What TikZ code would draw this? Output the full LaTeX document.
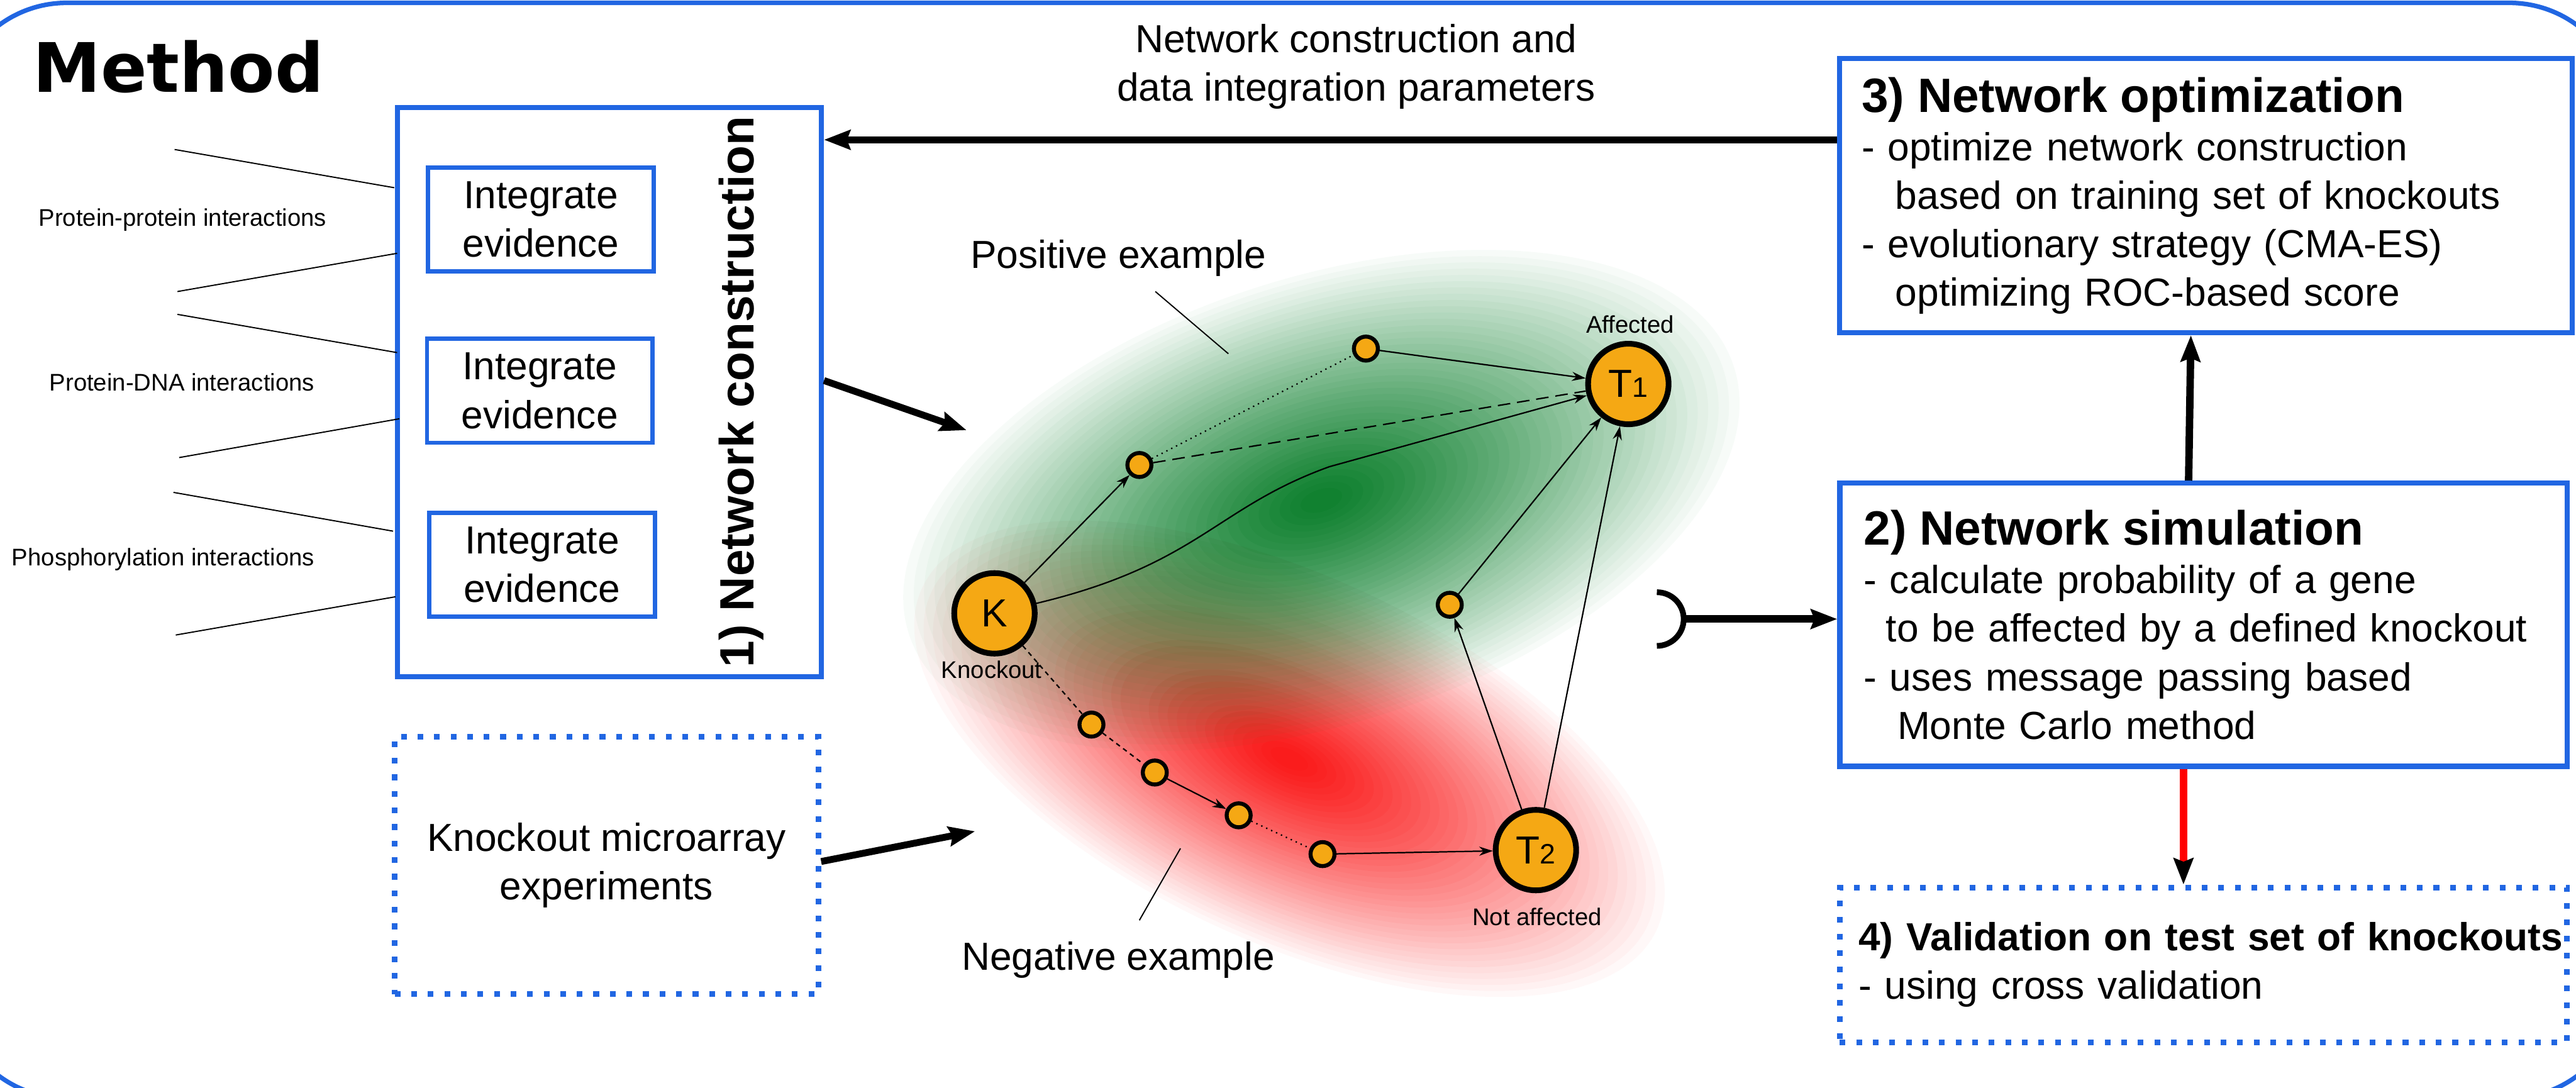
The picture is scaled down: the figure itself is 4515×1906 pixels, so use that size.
\documentclass[tikz,border=0pt]{standalone}
\usepackage{fontspec}
\setmainfont{Liberation Sans}
\newfontfamily\titlefont{DejaVu Sans}
\usetikzlibrary{arrows.meta}

\definecolor{boxblue}{RGB}{33,102,226}
\definecolor{geneorange}{RGB}{245,168,20}
\definecolor{posgreen}{RGB}{14,128,46}
\definecolor{negred}{RGB}{250,25,25}

\newcommand{\bodysize}{\fontsize{19.5}{24.2}\selectfont}
\newcommand{\headsize}{\fontsize{24}{24.2}\selectfont\bfseries}
\newcommand{\labelsize}{\fontsize{12}{14}\selectfont}
\newcommand{\subidx}[1]{{\fontsize{14}{14}\selectfont #1}}

\tikzset{
  bluebox/.style={draw=boxblue, line width=0.09cm},
  dotbox/.style={draw=boxblue, line width=0.1cm, dash pattern=on 0.1cm off 0.19cm},
  evbox/.style={draw=boxblue, line width=0.075cm, minimum width=3.95cm, minimum height=1.82cm, align=center, font=\bodysize},
  gene/.style={circle, draw, line width=0.1cm, fill=geneorange, minimum size=1.41cm, inner sep=0pt, font=\bodysize},
  minigene/.style={circle, draw, line width=0.07cm, fill=geneorange, minimum size=0.42cm, inner sep=0pt},
  link/.style={line width=0.7pt, -{Stealth[length=0.24cm, width=0.16cm]}},
  plainlink/.style={line width=0.7pt},
  bigarrow/.style={line width=0.13cm, -{Stealth[length=0.46cm, width=0.34cm, inset=0.06cm]}}
}

\begin{document}
\begin{tikzpicture}[x=0.01cm, y=-0.01cm]
  \useasboundingbox (0,0) rectangle (4515,1906);
  \draw[boxblue, line width=0.08cm, rounded corners=2cm] (-83,5) rectangle (4598,1925);

  \begin{scope}[shift={(2260,1330)}, rotate=-25]
    \foreach \i in {1,...,39} {
      \pgfmathsetmacro\op{1-((40-\i)/(41-\i))^1.2}
      \pgfmathsetmacro\rr{1-(\i-1)/40}
      \fill[negred, opacity=\op] (0,0) ellipse ({710*\rr} and {320*\rr});
    }
  \end{scope}
  \begin{scope}[shift={(2316,877)}, rotate=18]
    \foreach \i in {1,...,39} {
      \pgfmathsetmacro\op{1-((40-\i)/(41-\i))^1.2}
      \pgfmathsetmacro\rr{1-(\i-1)/40}
      \fill[posgreen, opacity=\op] (0,0) ellipse ({760*\rr} and {390*\rr});
    }
  \end{scope}

  \node[anchor=base west, inner sep=0pt, font=\titlefont\bfseries\fontsize{34}{40}\selectfont] (title) at (57,161) {Method};

  \node[bluebox, minimum width=7.43cm, minimum height=9.97cm] (netcon) at (1068,687) {};
  \node[rotate=90, anchor=base, font=\headsize] (netcontitle) at (1321,687) {1) Network construction};
  \node[evbox] (ev1) at (948,385) {Integrate\\evidence};
  \node[evbox] (ev2) at (946,685) {Integrate\\evidence};
  \node[evbox] (ev3) at (950,990) {Integrate\\evidence};

  \node[anchor=base, font=\labelsize] (ppi) at (320,396) {Protein-protein interactions};
  \node[anchor=base, font=\labelsize] (pdi) at (319,685) {Protein-DNA interactions};
  \node[anchor=base, font=\labelsize] (phos) at (286,991) {Phosphorylation interactions};
  \draw[line width=0.6pt] (306,262) -- (691,329);
  \draw[line width=0.6pt] (311,511) -- (696,444);
  \draw[line width=0.6pt] (311,551) -- (696,618);
  \draw[line width=0.6pt] (314,802) -- (700,734);
  \draw[line width=0.6pt] (304,863) -- (689,931);
  \draw[line width=0.6pt] (308,1113) -- (693,1046);

  \node[dotbox, minimum width=7.42cm, minimum height=4.51cm, align=center, font=\bodysize] (kodata) at (1063,1517) {Knockout microarray\\experiments};

  \node[align=center, font=\bodysize] (params) at (2377,117) {Network construction and\\data integration parameters};

  \node[bluebox, minimum width=12.83cm, minimum height=4.80cm, text width=12.05cm, inner xsep=0.39cm, align=left, font=\bodysize] (opt) at (3866,343) {{\headsize 3) Network optimization}\\
    - optimize network construction\\
    \hspace*{0.59cm}based on training set of knockouts\\
    - evolutionary strategy (CMA-ES)\\
    \hspace*{0.59cm}optimizing ROC-based score};
  \node[bluebox, minimum width=12.74cm, minimum height=4.96cm, text width=11.9cm, inner xsep=0.42cm, align=left, font=\bodysize] (sim) at (3862,1095) {{\headsize 2) Network simulation}\\
    - calculate probability of a gene\\
    \hspace*{0.39cm}to be affected by a defined knockout\\
    - uses message passing based\\
    \hspace*{0.59cm}Monte Carlo method};
  \node[dotbox, minimum width=12.74cm, minimum height=2.71cm, text width=12.08cm, inner xsep=0.33cm, align=left, font=\bodysize] (valid) at (3862,1691) {\mbox{\bfseries 4) Validation on test set of knockouts}\\
    - using cross validation};

  \node[anchor=base, font=\bodysize] (poslabel) at (1960,470) {Positive example};
  \node[anchor=base, font=\bodysize] (neglabel) at (1960,1700) {Negative example};
  \draw[line width=0.6pt] (2025,511) -- (2153,620);
  \draw[line width=0.6pt] (2069,1487) -- (1997,1613);

  \node[gene] (K) at (1743,1075) {K};
  \node[gene] (T1) at (2854,673) {T\subidx{1}};
  \node[gene] (T2) at (2692,1490) {T\subidx{2}};
  \node[anchor=base, font=\labelsize] (kolabel) at (1738,1189) {Knockout};
  \node[anchor=base, font=\labelsize] (afflabel) at (2857,584) {Affected};
  \node[anchor=base, font=\labelsize] (notafflabel) at (2694,1622) {Not affected};

  \node[minigene] (pa) at (2394,611) {};
  \node[minigene] (pb) at (1997,815) {};
  \node[minigene] (pc) at (2541,1060) {};
  \node[minigene] (na) at (1913,1270) {};
  \node[minigene] (nb) at (2024,1354) {};
  \node[minigene] (nc) at (2171,1429) {};
  \node[minigene] (nd) at (2318,1497) {};

  \draw[link] (K) -- (pb);
  \draw[plainlink, dotted] (pb) -- (pa);
  \draw[link] (pa) -- (T1);
  \draw[plainlink, dash pattern=on 0.22cm off 0.12cm] (pb) -- (T1);
  \draw[link] (K) .. controls (2100,990) and (2130,890) .. (2330,818) -- (T1);
  \draw[link] (pc) -- (T1);
  \draw[link] (T2) -- (pc);
  \draw[link] (T2) -- (T1);
  \draw[plainlink, dash pattern=on 0.08cm off 0.07cm] (K) -- (na);
  \draw[plainlink, dash pattern=on 0.08cm off 0.07cm] (na) -- (nb);
  \draw[link] (nb) -- (nc);
  \draw[plainlink, dotted] (nc) -- (nd);
  \draw[link] (nd) -- (T2);

  \coordinate (kin) at (1694,754);
  \coordinate (din) at (1709,1457);
  \coordinate (hook) at (2951,1085);
  \draw[bigarrow, line width=0.12cm] (opt.west |- 0,245) -- (netcon.east |- 0,245);
  \draw[bigarrow, line width=0.12cm] (netcon.east |- 0,667) -- (kin);
  \draw[bigarrow, line width=0.12cm] (kodata.east |- 0,1510) -- (din);
  \draw[line width=0.1cm] (2904,1038) arc (90:-90:0.47cm);
  \draw[bigarrow] (hook) -- (sim.west |- hook);
  \draw[bigarrow] ([xshift=-0.26cm]sim.north) -- ([xshift=-0.26cm]opt.south);
  \draw[line width=0.13cm, red, -{Stealth[length=0.46cm, width=0.34cm, inset=0.06cm, color=black]}] ([xshift=-0.35cm]sim.south) -- ([xshift=-0.35cm]valid.north);
\end{tikzpicture}
\end{document}
